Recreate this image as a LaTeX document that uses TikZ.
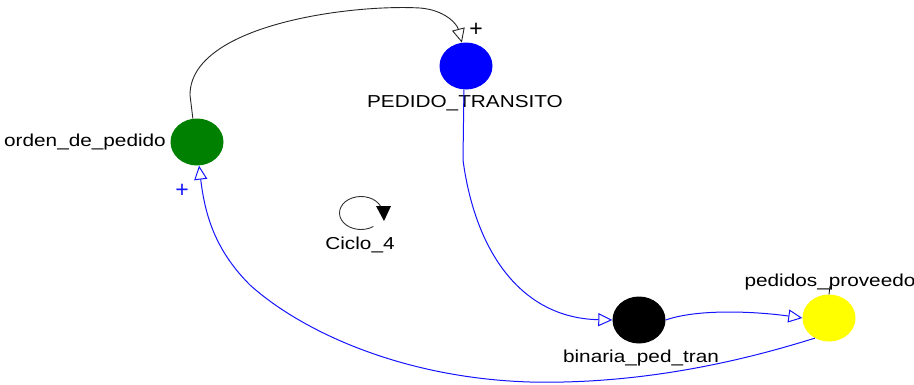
\documentclass[tikz,border=0pt]{standalone}
\usepackage{fontspec}
\newfontfamily\lblfont[FakeStretch=1.2]{Liberation Sans}
\newfontfamily\signfont{Liberation Sans}
\usetikzlibrary{arrows.meta,shapes.geometric}
\definecolor{lvblue}{RGB}{0,0,255}
\definecolor{lvgreen}{RGB}{0,128,0}
\definecolor{lvyellow}{RGB}{255,255,0}
\definecolor{linkblue}{RGB}{20,20,255}
\begin{document}
\begin{tikzpicture}[x=1pt,y=-1pt,
  var/.style={ellipse,draw=none,minimum width=53pt,minimum height=47pt,inner sep=0pt},
  lbl/.style={font=\lblfont\fontsize{17.3}{19}\selectfont,inner sep=0pt,text=black},
  sign/.style={font=\signfont\fontsize{23}{24}\selectfont,inner sep=0pt},
  openhead/.style={-{Triangle[open,length=14pt,width=13pt,fill=white]}},
  link/.style={openhead,draw=linkblue,line width=1pt},
  plainlink/.style={openhead,draw=black!85,line width=0.9pt}]
\path[use as bounding box] (0,0) rectangle (914,384);

% variables
\node[var,fill=lvblue]   (pt)   at (466,66)  {};
\node[var,fill=lvgreen]  (ord)  at (197,142) {};
\node[var,fill=black]    (bin)  at (639,320) {};
\node[var,fill=lvyellow] (prov) at (829,318) {};

% variable names
\node[lbl] (ptl)   at (465,103) {PEDIDO\_TRANSITO};
\node[lbl,anchor=east] (ordl) at (166,142) {orden\_de\_pedido};
\node[lbl] (binl)  at (641,358) {binaria\_ped\_tran};
\node[lbl] (provl) at (830,282) {pedidos\_proveedo};

% links
\draw[plainlink] (ord.100) -- (190,95)
  .. controls (190,25) and (350,4) .. (420,8)
  .. controls (445,10) and (457,24) .. (pt.100);
\draw[link] (pt.-95) -- (463,160)
  .. controls (475,250) and (520,318) .. (bin.west);
\draw[link] (bin.east) .. controls (700,308) and (760,312) .. (prov.west);
\draw[link] (prov.-125) .. controls (770,352) and (660,385) .. (530,382)
  .. controls (400,378) and (300,330) .. (250,285)
  .. controls (215,250) and (205,215) .. (ord.-85);
\draw[black,line width=0.8pt] (830,286) -- (prov.north);

% polarity signs
\node[sign,text=black]     (s1) at (476,30)  {+};
\node[sign,text=linkblue]  (s2) at (182,191) {+};

% loop marker: open ring with a solid head pointing down on its right side
\coordinate (cyc) at (361,213);
\draw[black!80,line width=0.9pt]
  ([shift={(55:21.5 and 16.5)}]cyc) arc[start angle=55,end angle=352,x radius=21.5,y radius=16.5];
\fill[black] (376,206) -- (391,206) -- (384,221) -- cycle;
\node[lbl] (cycl) at (360,245) {Ciclo\_4};
\end{tikzpicture}
\end{document}
